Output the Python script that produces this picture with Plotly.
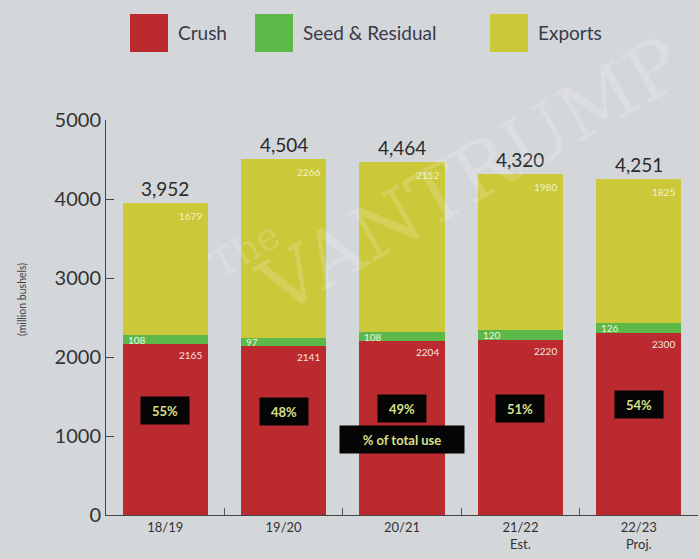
import plotly.graph_objects as go

# Soybean use by marketing year (million bushels)
years = ["18/19", "19/20", "20/21", "21/22", "22/23"]
year_labels = ["18/19", "19/20", "20/21", "21/22<br>Est.", "22/23<br>Proj."]
crush = [2165, 2141, 2204, 2220, 2300]
seed_residual = [108, 97, 108, 120, 126]
exports = [1679, 2266, 2152, 1980, 1825]
y_ticks = [0, 1000, 2000, 3000, 4000, 5000]

totals = [c + s + e for c, s, e in zip(crush, seed_residual, exports)]
crush_share = [round(100 * c / t) for c, t in zip(crush, totals)]

RED = "#bb2a2e"
GREEN = "#5db84a"
YELLOW = "#cbc83a"
BG = "#d4d7da"
INK = "#2a2a2a"
FONT = "Lato"

# plot area in pixels: x 106..698, y 120 (5000) .. 515 (0)
L, R, T, B = 106, 698, 120, 515


def px_x(p):
    return (p - L) / (R - L)


def px_y(p):
    return (B - p) / (B - T)


fig = go.Figure()
for name, vals, color in [("Crush", crush, RED),
                          ("Seed & Residual", seed_residual, GREEN),
                          ("Exports", exports, YELLOW)]:
    fig.add_trace(go.Bar(x=years, y=vals, name=name, marker_color=color,
                         marker_line_width=0, showlegend=False))

ann = []
half_w = 0.36  # half bar width in category units
for i, yr in enumerate(years):
    base_seed = crush[i]
    # totals above each bar
    ann.append(dict(x=yr, y=totals[i], text=f"{totals[i]:,}", showarrow=False,
                    yanchor="bottom", yshift=1,
                    font=dict(family=FONT, size=19, color=INK)))
    # exports value, top-right of the yellow segment
    ann.append(dict(x=i + half_w, y=totals[i], text=str(exports[i]), showarrow=False,
                    xanchor="right", yanchor="top", xshift=-4, yshift=-5,
                    font=dict(family=FONT, size=10, color="#f4f2c8")))
    # seed & residual value, left side of the green segment
    ann.append(dict(x=i - half_w, y=base_seed + seed_residual[i] / 2,
                    text=str(seed_residual[i]), showarrow=False,
                    xanchor="left", yanchor="middle", xshift=3,
                    font=dict(family=FONT, size=10, color="#eef6e0")))
    # crush value, top-right of the red segment
    ann.append(dict(x=i + half_w, y=crush[i], text=str(crush[i]), showarrow=False,
                    xanchor="right", yanchor="top", xshift=-4, yshift=-3,
                    font=dict(family=FONT, size=10, color="#f6e4e4")))
    # crush share of total use
    ann.append(dict(x=yr, y=crush[i] * 0.61, text=f"<b>{crush_share[i]}%</b>",
                    showarrow=False, bgcolor="#050505", width=40, height=19,
                    borderpad=4,
                    font=dict(family=FONT, size=13, color="#d9e08c")))

ann.append(dict(x=years[2], y=950, text="<b>% of total use</b>", showarrow=False,
                bgcolor="#050505", width=116, height=19, borderpad=4,
                font=dict(family=FONT, size=13, color="#d9e08c")))

# axis title
ann.append(dict(xref="paper", yref="paper", x=px_x(22), y=px_y(300),
                xanchor="center", yanchor="middle",
                text="(million bushels)", textangle=-90, showarrow=False,
                font=dict(family=FONT, size=10.5, color="#444444")))

# custom legend with large swatches
legend_items = [("Crush", RED, 130), ("Seed & Residual", GREEN, 255), ("Exports", YELLOW, 490)]
shapes = []
for name, color, p in legend_items:
    shapes.append(dict(type="rect", xref="paper", yref="paper",
                       x0=px_x(p), x1=px_x(p + 38), y0=px_y(52), y1=px_y(14),
                       line_width=0, fillcolor=color))
    ann.append(dict(xref="paper", yref="paper", x=px_x(p + 46), y=px_y(33),
                    xanchor="left", yanchor="middle", text=name, showarrow=False,
                    font=dict(family=FONT, size=19, color="#3a3a4a")))

# faint watermark
ann.append(dict(xref="paper", yref="paper", x=px_x(245), y=px_y(250), text="The",
                xanchor="center", yanchor="middle",
                textangle=-30, showarrow=False, opacity=0.16,
                font=dict(family="DejaVu Serif", size=38, color="#ffffff")))
ann.append(dict(xref="paper", yref="paper", x=px_x(470), y=px_y(175), text="VANTRUMP",
                xanchor="center", yanchor="middle",
                textangle=-30, showarrow=False, opacity=0.16,
                font=dict(family="DejaVu Serif", size=76, color="#ffffff")))

fig.update_layout(
    barmode="stack",
    bargap=0.28,
    width=699, height=559,
    margin=dict(l=L, r=699 - R, t=T, b=559 - B),
    paper_bgcolor=BG, plot_bgcolor=BG,
    font=dict(family=FONT, color=INK),
    annotations=ann,
    shapes=shapes,
    showlegend=False,
)
fig.update_xaxes(tickvals=years, ticktext=year_labels, tickson="boundaries",
                 ticks="inside", ticklen=7, tickcolor="#555555",
                 showline=True, linecolor="#444444", linewidth=1,
                 tickfont=dict(family=FONT, size=13, color="#333333"),
                 showgrid=False)
fig.update_yaxes(range=[0, 5000], tickvals=y_ticks, ticks="inside", ticklen=8,
                 tickcolor="#444444", showline=True, linecolor="#444444",
                 linewidth=1, showgrid=False, zeroline=False,
                 tickfont=dict(family=FONT, size=20, color="#333333"))

fig.write_html("out.html")
